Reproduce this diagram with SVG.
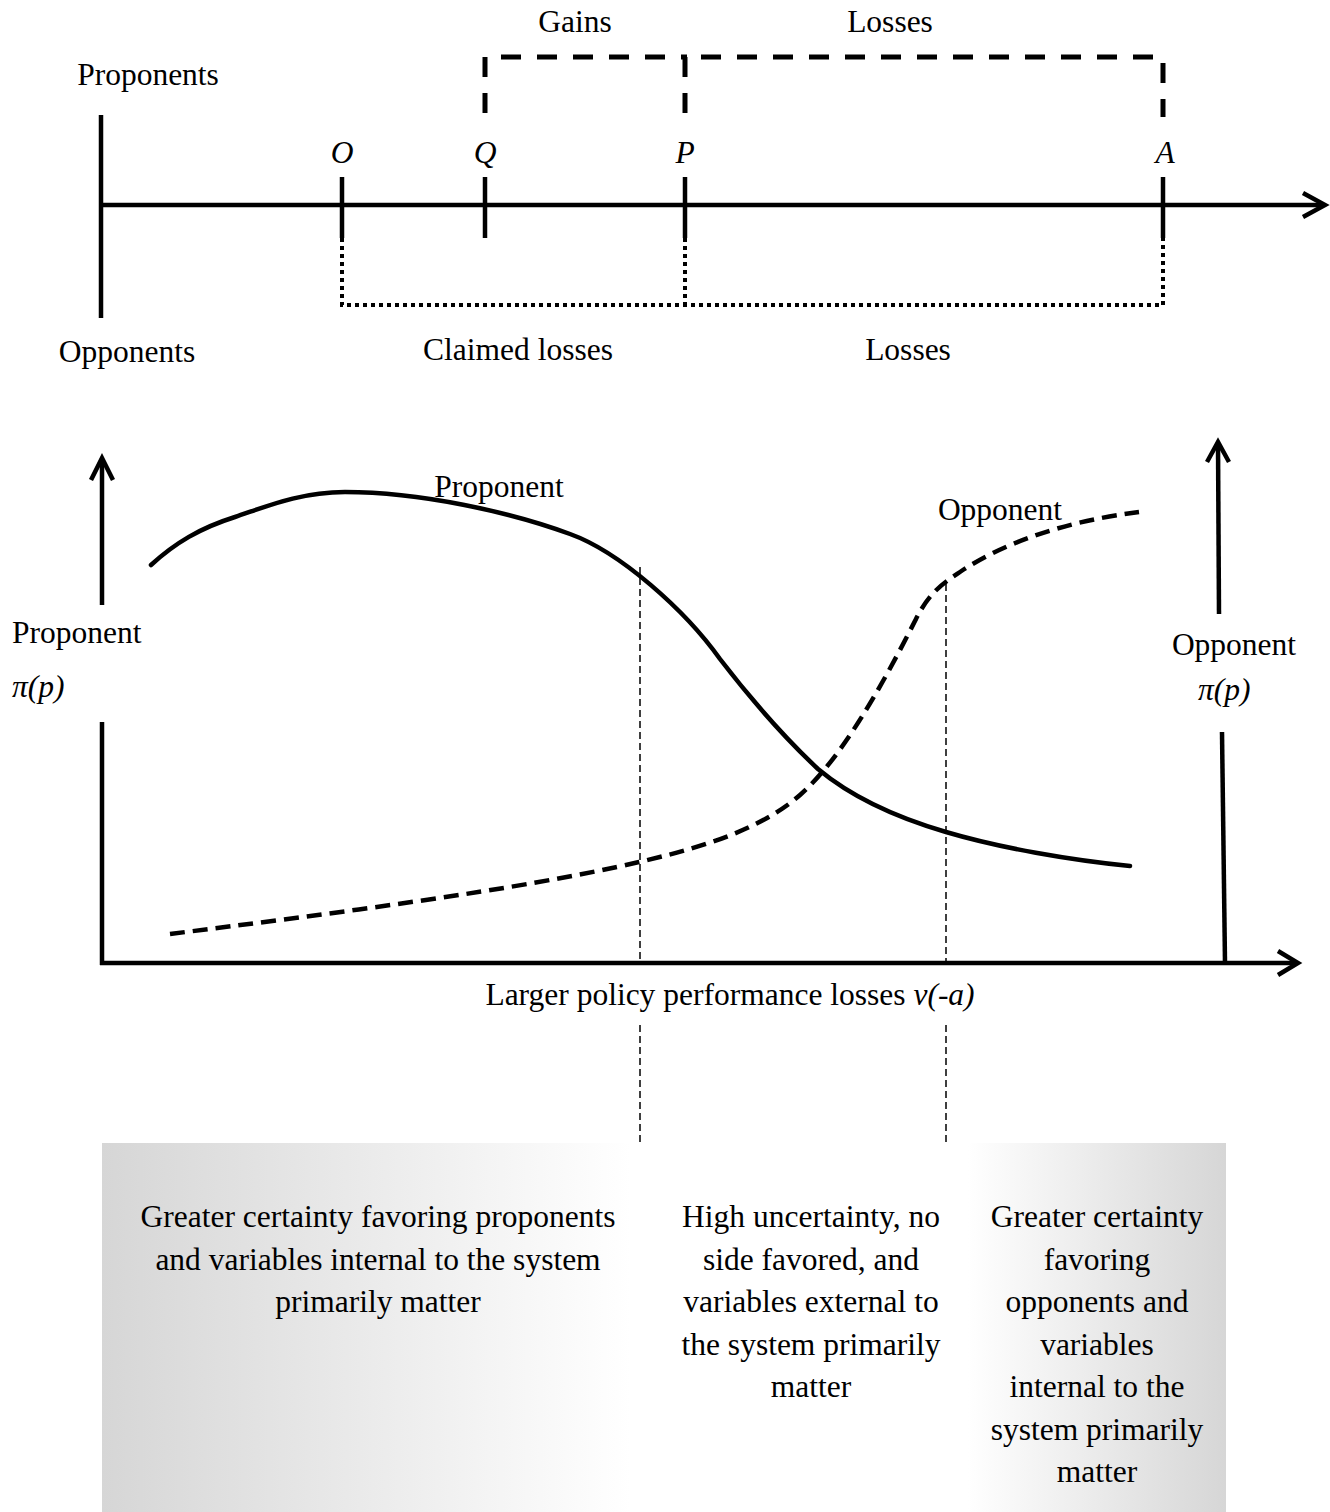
<svg xmlns="http://www.w3.org/2000/svg" width="1330" height="1512" viewBox="0 0 1330 1512">
<defs>
<linearGradient id="boxfill" x1="102" y1="0" x2="1226" y2="0" gradientUnits="userSpaceOnUse">
<stop offset="0" stop-color="#d6d6d6"/>
<stop offset="0.47" stop-color="#ffffff"/>
<stop offset="0.77" stop-color="#ffffff"/>
<stop offset="1" stop-color="#d6d6d6"/>
</linearGradient>
</defs>
<style>
text{font-family:"Liberation Serif","Times New Roman",serif;font-size:31.5px;fill:#000}
.it{font-style:italic}
.c{text-anchor:middle}
.ax{stroke:#000;stroke-width:4.5;fill:none}
.dash{stroke:#000;stroke-width:5;fill:none;stroke-dasharray:20 16}
.dot{stroke:#000;stroke-width:4;fill:none;stroke-dasharray:4 4}
.curve{stroke:#000;stroke-width:4.5;fill:none;stroke-linecap:round}
.dcurve{stroke:#000;stroke-width:4.5;fill:none;stroke-dasharray:15 8}
.thin{stroke:#000;stroke-width:1.5;fill:none;stroke-dasharray:7 4}
</style>
<rect id="bottom-box" x="102" y="1143" width="1124" height="369" fill="url(#boxfill)"/>

<g id="top-axis">
<path class="ax" d="M101,115 V318"/>
<path class="ax" d="M101,205 H1322"/>
<path class="ax" d="M1303,193 L1325,205 L1303,217"/>
<text x="148" y="85" class="c">Proponents</text>
<text x="127" y="362" class="c">Opponents</text>
</g>
<g id="tick-O"><path class="ax" d="M342,177 V238"/><text x="342" y="163" class="c it">O</text></g>
<g id="tick-Q"><path class="ax" d="M485,177 V238"/><text x="485" y="163" class="c it">Q</text></g>
<g id="tick-P"><path class="ax" d="M685,177 V238"/><text x="685" y="163" class="c it">P</text></g>
<g id="tick-A"><path class="ax" d="M1163,177 V238"/><text x="1165" y="163" class="c it">A</text></g>

<g id="brackets">
<path class="dash" d="M485,113 V57 H687"/>
<path class="dash" d="M685,113 V57 H1163 V117"/>
<path class="dot" d="M342,238 V305 H1163 V238"/>
<path class="dot" d="M685,238 V305"/>
<text x="575" y="32" class="c">Gains</text>
<text x="890" y="32" class="c">Losses</text>
<text x="518" y="360" class="c">Claimed losses</text>
<text x="908" y="360" class="c">Losses</text>
</g>

<g id="chart-axes">
<path class="ax" d="M102,459 V605"/>
<path class="ax" d="M91,480 L102,458 L113,480"/>
<path class="ax" d="M102,722 V965"/>
<path class="ax" d="M100,963 H1297"/>
<path class="ax" d="M1278,951 L1298,963 L1278,975"/>
<path class="ax" d="M1218,443 L1219,614"/>
<path class="ax" d="M1207,462 L1218,442 L1229,462"/>
<path class="ax" d="M1222,732 L1225,963"/>
<text x="12" y="643">Proponent</text>
<text x="12" y="697" class="it">π(p)</text>
<text x="1234" y="655" class="c">Opponent</text>
<text x="1198" y="700" class="it">π(p)</text>
<text x="730" y="1005" class="c">Larger policy performance losses <tspan class="it">v(-a)</tspan></text>
</g>

<g id="proponent-curve">
<path class="curve" d="M151,565 C175,543 200,528 235,517 C265,507 300,492 345,492 C420,492 510,512 570,534 C620,552 685,610 720,659 C750,698 785,738 818,769 C855,800 905,820 946,832 C1000,848 1070,860 1130,866"/>
<text x="499" y="497" class="c">Proponent</text>
</g>
<g id="opponent-curve">
<path class="dcurve" d="M170,934 C320,915 520,890 639,862 C700,848 760,830 800,795 C840,760 880,690 916,619 C930,591 945,582 960,572 C1000,545 1060,522 1139,512"/>
<text x="1000" y="520" class="c">Opponent</text>
</g>

<g id="connectors">
<path class="thin" d="M640,567 V963"/>
<path class="thin" d="M946,584 V963"/>
<path class="thin" d="M640,1025 V1143"/>
<path class="thin" d="M946,1025 V1143"/>
</g>

<g id="region-left">
<text x="378" y="1227" class="c">Greater certainty favoring proponents</text>
<text x="378" y="1270" class="c">and variables internal to the system</text>
<text x="378" y="1312" class="c">primarily matter</text>
</g>
<g id="region-middle">
<text x="811" y="1227" class="c">High uncertainty, no</text>
<text x="811" y="1270" class="c">side favored, and</text>
<text x="811" y="1312" class="c">variables external to</text>
<text x="811" y="1355" class="c">the system primarily</text>
<text x="811" y="1397" class="c">matter</text>
</g>
<g id="region-right">
<text x="1097" y="1227" class="c">Greater certainty</text>
<text x="1097" y="1270" class="c">favoring</text>
<text x="1097" y="1312" class="c">opponents and</text>
<text x="1097" y="1355" class="c">variables</text>
<text x="1097" y="1397" class="c">internal to the</text>
<text x="1097" y="1440" class="c">system primarily</text>
<text x="1097" y="1482" class="c">matter</text>
</g>
</svg>
